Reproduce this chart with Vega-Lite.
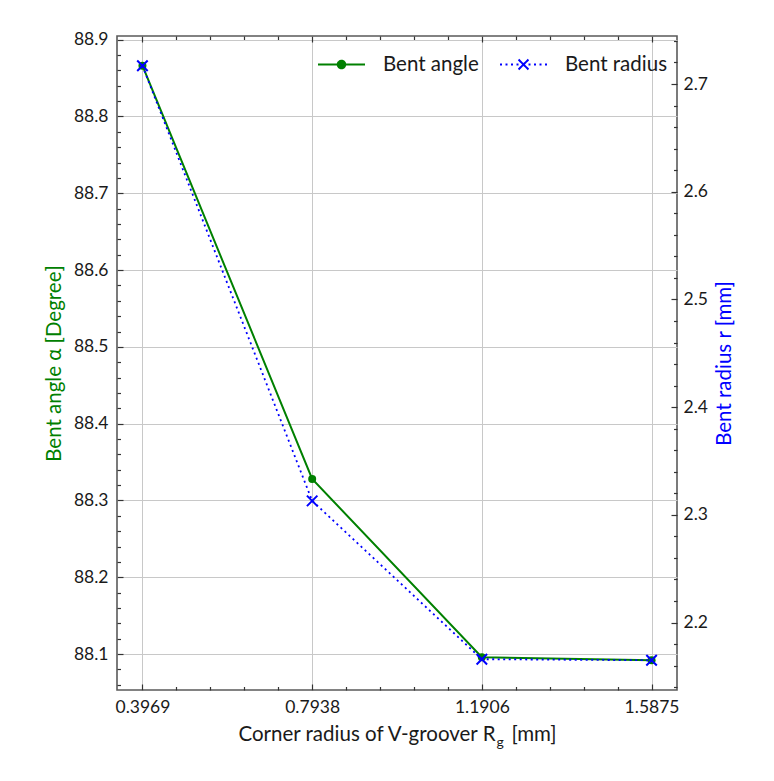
{
  "$schema": "https://vega.github.io/schema/vega-lite/v6.json",
  "width": 560,
  "height": 654,
  "autosize": "none",
  "padding": {"left": 117, "top": 36, "right": 97, "bottom": 91},
  "background": "white",
  "data": {"values": [
    {"Rg": 0.3969, "alpha": 88.866, "radius": 2.717},
    {"Rg": 0.7938, "alpha": 88.328, "radius": 2.313},
    {"Rg": 1.1906, "alpha": 88.096, "radius": 2.166},
    {"Rg": 1.5875, "alpha": 88.092, "radius": 2.165}
  ]},
  "config": {
    "font": "Lato",
    "view": {"stroke": "#5a5a5a", "strokeWidth": 1.6},
    "axis": {
      "domain": false,
      "labelFont": "Lato",
      "labelFontSize": 17.5,
      "labelColor": "#1a1a1a",
      "titleFont": "Lato",
      "titleFontSize": 20.5,
      "titleFontWeight": "normal",
      "titleColor": "#1a1a1a",
      "tickColor": "#333333",
      "tickWidth": 1.2,
      "gridColor": "#c8c8c8",
      "gridWidth": 1,
      "labelOverlap": false,
      "labelFlush": false,
      "labelBound": false
    }
  },
  "layer": [
    {
      "mark": {"type": "line", "strokeWidth": 2},
      "encoding": {
        "x": {
          "field": "Rg", "type": "quantitative",
          "scale": {"domain": [0.3374, 1.647], "nice": false, "zero": false},
          "axis": {
            "orient": "bottom",
            "values": [0.3969, 0.4763, 0.5557, 0.635, 0.7144, 0.7938, 0.8732, 0.9525, 1.0319, 1.1113, 1.1906, 1.27, 1.3494, 1.4288, 1.5081, 1.5875],
            "labelExpr": "indexof([0.3969, 0.7938, 1.1906, 1.5875], datum.value) >= 0 ? format(datum.value, '.4f') : ''",
            "tickSize": {"condition": {"test": "indexof([0.3969, 0.7938, 1.1906, 1.5875], datum.value) >= 0", "value": -6}, "value": -3.5},
            "grid": true,
            "gridOpacity": {"condition": {"test": "indexof([0.3969, 0.7938, 1.1906, 1.5875], datum.value) >= 0", "value": 1}, "value": 0},
            "labelPadding": 14,
            "title": "Corner radius of V-groover R",
            "titleX": 378,
            "titleY": 50,
            "titleAlign": "right",
            "titleBaseline": "alphabetic"
          }
        },
        "y": {
          "field": "alpha", "type": "quantitative",
          "scale": {"domain": [88.0533, 88.9047], "nice": false, "zero": false},
          "axis": {
            "orient": "left",
            "values": [88.06, 88.08, 88.1, 88.12, 88.14, 88.16, 88.18, 88.2, 88.22, 88.24, 88.26, 88.28, 88.3, 88.32, 88.34, 88.36, 88.38, 88.4, 88.42, 88.44, 88.46, 88.48, 88.5, 88.52, 88.54, 88.56, 88.58, 88.6, 88.62, 88.64, 88.66, 88.68, 88.7, 88.72, 88.74, 88.76, 88.78, 88.8, 88.82, 88.84, 88.86, 88.88, 88.9],
            "labelExpr": "abs(datum.value * 10 - round(datum.value * 10)) < 0.01 ? format(datum.value, '.1f') : ''",
            "tickSize": {"condition": {"test": "abs(datum.value * 10 - round(datum.value * 10)) < 0.01", "value": -6}, "value": -3.5},
            "grid": true,
            "gridOpacity": {"condition": {"test": "abs(datum.value * 10 - round(datum.value * 10)) < 0.01", "value": 1}, "value": 0},
            "labelPadding": 15,
            "title": "Bent angle α [Degree]",
            "titleColor": "#008000",
            "titlePadding": 9
          }
        },
        "color": {
          "datum": "Bent angle",
          "scale": {"domain": ["Bent angle", "Bent radius"], "range": ["#008000", "#0000ff"]},
          "legend": {
            "orient": "none",
            "legendX": 200,
            "legendY": 4,
            "direction": "horizontal",
            "title": null,
            "padding": 0,
            "labelFont": "Lato",
            "labelFontSize": 20.5,
            "labelColor": "#1a1a1a",
            "symbolSize": 2209,
            "symbolStrokeWidth": 2,
            "labelOffset": 17,
            "columnPadding": 17,
            "encode": {
              "symbols": {
                "update": {
                  "shape": {"signal": "datum.value === 'Bent angle' ? 'M-1,0L1,0M0.16,0A0.16,0.16,0,1,1,-0.16,0A0.16,0.16,0,1,1,0.16,0Z' : 'M-1,0L-0.915,0M-0.766,0L-0.681,0M-0.532,0L-0.447,0M-0.298,0L-0.213,0M0.213,0L0.298,0M0.447,0L0.532,0M0.681,0L0.766,0M0.915,0L1,0M-0.21,-0.21L0.21,0.21M-0.21,0.21L0.21,-0.21'"},
                  "fill": {"signal": "datum.value === 'Bent angle' ? '#008000' : 'transparent'"},
                  "stroke": {"signal": "datum.value === 'Bent angle' ? '#008000' : '#0000ff'"},
                  "strokeWidth": {"value": 2},
                  "strokeDash": {"value": [1, 0]},
                  "opacity": {"value": 1}
                }
              }
            }
          }
        }
      }
    },
    {
      "mark": {"type": "point", "filled": true, "shape": "circle", "size": 64, "color": "#008000", "opacity": 1},
      "encoding": {
        "x": {
          "field": "Rg", "type": "quantitative",
          "axis": {
            "orient": "bottom", "ticks": false, "labels": false, "domain": false, "grid": false,
            "title": "g", "titleFontSize": 14, "titleX": 379, "titleY": 56,
            "titleAlign": "left", "titleBaseline": "alphabetic"
          }
        },
        "y": {
          "field": "alpha", "type": "quantitative",
          "scale": {"domain": [88.0533, 88.9047], "nice": false, "zero": false},
          "axis": null
        }
      }
    },
    {
      "mark": {"type": "line", "strokeWidth": 1.8, "strokeDash": [2, 3.5]},
      "encoding": {
        "x": {
          "field": "Rg", "type": "quantitative",
          "axis": {
            "orient": "top",
            "values": [0.3969, 0.4763, 0.5557, 0.635, 0.7144, 0.7938, 0.8732, 0.9525, 1.0319, 1.1113, 1.1906, 1.27, 1.3494, 1.4288, 1.5081, 1.5875],
            "labels": false, "grid": false, "title": null,
            "tickSize": {"condition": {"test": "indexof([0.3969, 0.7938, 1.1906, 1.5875], datum.value) >= 0", "value": -6}, "value": -3.5}
          }
        },
        "y": {
          "field": "radius", "type": "quantitative",
          "scale": {"domain": [2.1374, 2.7446], "nice": false, "zero": false},
          "axis": {
            "orient": "right",
            "values": [2.14, 2.16, 2.18, 2.2, 2.22, 2.24, 2.26, 2.28, 2.3, 2.32, 2.34, 2.36, 2.38, 2.4, 2.42, 2.44, 2.46, 2.48, 2.5, 2.52, 2.54, 2.56, 2.58, 2.6, 2.62, 2.64, 2.66, 2.68, 2.7, 2.72, 2.74],
            "labelExpr": "abs(datum.value * 10 - round(datum.value * 10)) < 0.01 ? format(datum.value, '.1f') : ''",
            "tickSize": {"condition": {"test": "abs(datum.value * 10 - round(datum.value * 10)) < 0.01", "value": -6}, "value": -3.5},
            "grid": false,
            "labelPadding": 12,
            "title": "Bent radius r [mm]",
            "titleColor": "#0000ff",
            "titleAngle": 270,
            "titleBaseline": "top",
            "titlePadding": 7
          }
        },
        "color": {"datum": "Bent radius"}
      }
    },
    {
      "mark": {"type": "point", "shape": "M-1,-1L1,1M-1,1L1,-1", "size": 110, "filled": false, "color": "#0000ff", "strokeWidth": 2, "opacity": 1},
      "encoding": {
        "x": {
          "field": "Rg", "type": "quantitative",
          "axis": {
            "orient": "bottom", "ticks": false, "labels": false, "domain": false, "grid": false,
            "title": "[mm]", "titleX": 394, "titleY": 50,
            "titleAlign": "left", "titleBaseline": "alphabetic"
          }
        },
        "y": {
          "field": "radius", "type": "quantitative",
          "scale": {"domain": [2.1374, 2.7446], "nice": false, "zero": false},
          "axis": null
        }
      }
    }
  ],
  "resolve": {"scale": {"y": "independent"}, "axis": {"x": "independent", "y": "independent"}}
}
